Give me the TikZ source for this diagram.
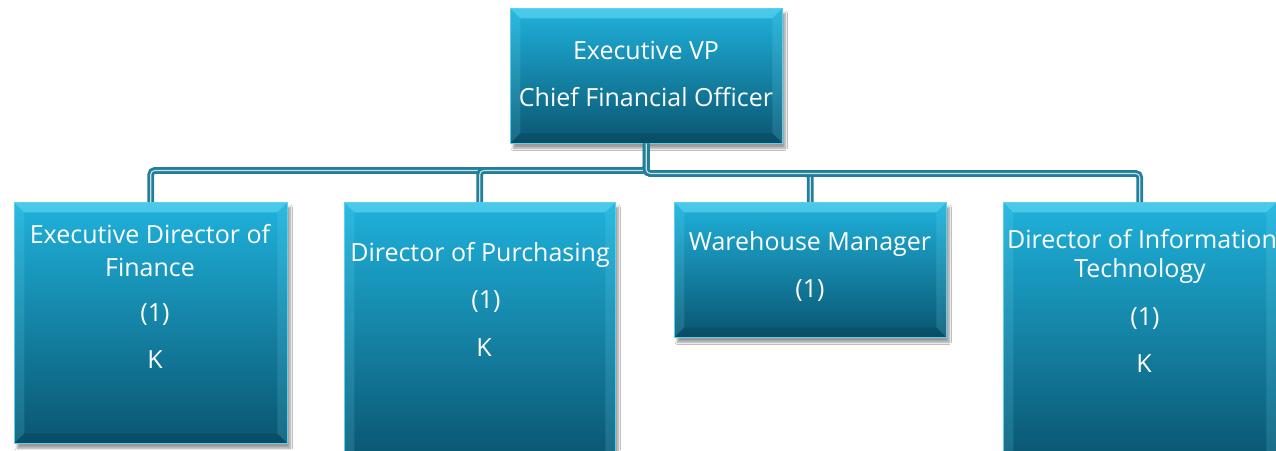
\documentclass[tikz,border=0pt]{standalone}
\usepackage{fontspec}
\setmainfont{Open Sans}
\usetikzlibrary{shadows.blur}
\definecolor{boxtop}{HTML}{1FB2DC}
\definecolor{boxbot}{HTML}{0A5570}
\definecolor{bevel}{HTML}{7FE8FC}
\definecolor{conn}{HTML}{247E97}
\definecolor{connlight}{HTML}{C2E2EA}
\tikzset{
  orgbox/.style={rectangle, anchor=north west, inner sep=0pt,
    top color=boxtop, bottom color=boxbot, draw=bevel!60!boxtop, line width=0.5pt,
    blur shadow={shadow xshift=3pt, shadow yshift=-5pt, shadow blur steps=8, shadow opacity=40},
    path picture={
      \fill[bevel, opacity=0.45] (path picture bounding box.north west) -- (path picture bounding box.north east)
        -- ([xshift=-10pt,yshift=-10pt]path picture bounding box.north east) -- ([xshift=10pt,yshift=-10pt]path picture bounding box.north west) -- cycle;
      \fill[bevel, opacity=0.15] (path picture bounding box.north west) -- ([xshift=10pt,yshift=-10pt]path picture bounding box.north west)
        -- ([xshift=10pt,yshift=10pt]path picture bounding box.south west) -- (path picture bounding box.south west) -- cycle;
      \fill[bevel, opacity=0.15] (path picture bounding box.north east) -- ([xshift=-10pt,yshift=-10pt]path picture bounding box.north east)
        -- ([xshift=-10pt,yshift=10pt]path picture bounding box.south east) -- (path picture bounding box.south east) -- cycle;
      \fill[black, opacity=0.10] (path picture bounding box.south west) -- ([xshift=10pt,yshift=10pt]path picture bounding box.south west)
        -- ([xshift=-10pt,yshift=10pt]path picture bounding box.south east) -- (path picture bounding box.south east) -- cycle;
    }},
  txt/.style={text=white, font=\fontsize{25}{29}\selectfont, inner sep=0pt, anchor=center},
  link/.style={draw=conn, line width=2.8pt, double=connlight, double distance=1.1pt, rounded corners=4pt}
}
\begin{document}
\begin{tikzpicture}[x=1pt,y=-1pt]
\useasboundingbox (0,0) rectangle (1276,450);
\fill[white] (0,0) rectangle (1276,450);
% boxes
\node[orgbox, minimum width=272pt, minimum height=135pt] (top) at (510,8) {};
\node[orgbox, minimum width=273pt, minimum height=241pt] (b1) at (14,202) {};
\node[orgbox, minimum width=271pt, minimum height=260pt] (b2) at (344,202) {};
\node[orgbox, minimum width=272pt, minimum height=135pt] (b3) at (674,202) {};
\node[orgbox, minimum width=273pt, minimum height=260pt] (b4) at (1003,202) {};
% connectors
\draw[link] (top.south) -- ([yshift=-27pt]top.south) -| (b1.north);
\draw[link] (top.south) -- ([yshift=-27pt]top.south) -| (b2.north);
\draw[link] (top.south) -- ([yshift=-30pt]top.south) -| (b3.north);
\draw[link] (top.south) -- ([yshift=-30pt]top.south) -| (b4.north);
% texts
\node[txt] (t0a) at (646,50) {Executive VP};
\node[txt] (t0b) at (646,97) {Chief Financial Officer};
\node[txt] (t1a) at (150,234) {Executive Director of};
\node[txt] (t1b) at (150,267) {Finance};
\node[txt] (t1c) at (155,315) {(1)};
\node[txt] (t1d) at (155,360) {K};
\node[txt] (t2a) at (480,255) {Director of Purchasing};
\node[txt] (t2c) at (486,302) {(1)};
\node[txt] (t2d) at (484,348) {K};
\node[txt] (t3a) at (810,244) {Warehouse Manager};
\node[txt] (t3c) at (810,291) {(1)};
\node[txt] (t4a) at (1142,239) {Director of Information};
\node[txt] (t4b) at (1140,271) {Technology};
\node[txt] (t4c) at (1145,319) {(1)};
\node[txt] (t4d) at (1144,364) {K};
\end{tikzpicture}
\end{document}
